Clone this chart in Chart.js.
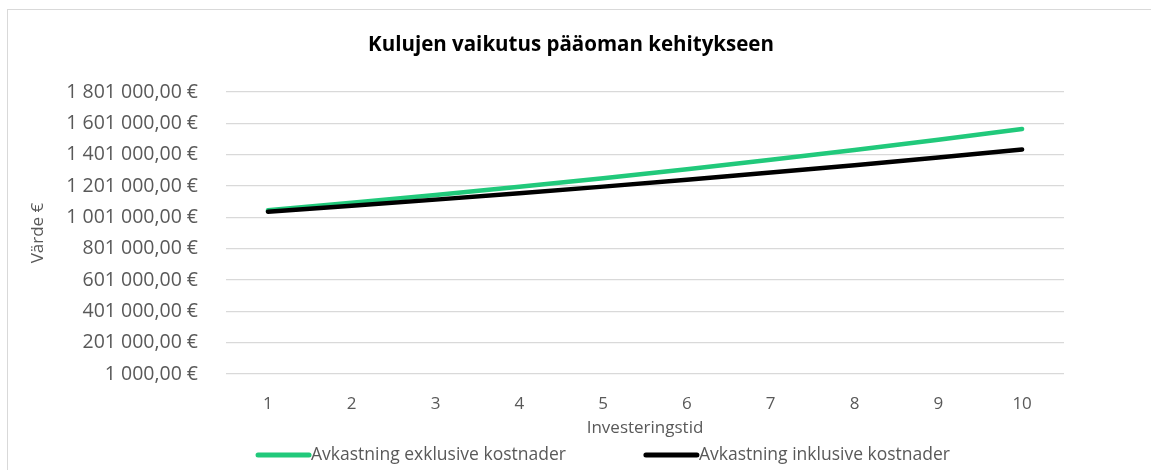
<!DOCTYPE html>
<html>
<head>
<meta charset="utf-8">
<script src="https://cdn.jsdelivr.net/npm/chart.js@4.4.1/dist/chart.umd.min.js"></script>
<style>
  html, body { margin: 0; padding: 0; background: #ffffff; }
  #wrap { position: relative; width: 1151px; height: 470px; overflow: hidden; }
  #frame { position: absolute; left: 7px; top: 9px; width: 1200px; height: 500px; border: 1.5px solid #d9d9d9; box-sizing: border-box; }
  canvas { position: absolute; left: 0; top: 0; }
</style>
</head>
<body>
<div id="wrap">
  <div id="frame"></div>
  <canvas id="c" width="1151" height="470"></canvas>
</div>
<script>
const chartTitle = "Kulujen vaikutus pääoman kehitykseen";
const xTitle = "Investeringstid";
const yTitle = "Värde €";
const categories = ["1", "2", "3", "4", "5", "6", "7", "8", "9", "10"];
const seriesNames = ["Avkastning exklusive kostnader", "Avkastning inklusive kostnader"];
const exclusiveValues = [1046000, 1094000, 1144000, 1196000, 1251000, 1308000, 1368000, 1431000, 1496000, 1565000];
const inclusiveValues = [1037000, 1075000, 1114000, 1155000, 1197000, 1241000, 1287000, 1334000, 1383000, 1434000];
const yTicks = [1000, 201000, 401000, 601000, 801000, 1001000, 1201000, 1401000, 1601000, 1801000];

const FONT = "'Open Sans', 'Noto Sans', sans-serif";
const TEXT = "#595959";
const GREEN = "#21c97b";
const BLACK = "#000000";

function fmtEuro(v) {
  const s = Math.round(v).toString().replace(/\B(?=(\d{3})+(?!\d))/g, " ");
  return s + ",00 €";
}

const titlePlugin = {
  id: 'customTitle',
  afterDraw(chart) {
    const ctx = chart.ctx;
    ctx.save();
    ctx.font = "bold 20.5px " + FONT;
    ctx.fillStyle = "#000000";
    ctx.textAlign = 'center';
    ctx.textBaseline = 'middle';
    ctx.fillText(chartTitle, 571, 45);
    ctx.restore();
  }
};

const legendPlugin = {
  id: 'customLegend',
  afterDraw(chart) {
    const ctx = chart.ctx;
    const ds = chart.data.datasets.slice().sort((a, b) => a.legendIndex - b.legendIndex);
    ctx.save();
    ctx.font = "17.5px " + FONT;
    const sample = 55, gap = 78, y = 455;
    const widths = ds.map(d => sample + ctx.measureText(d.label).width);
    const total = widths.reduce((a, b) => a + b, 0) + gap * (ds.length - 1);
    let x = 603 - total / 2;
    ds.forEach((d, i) => {
      ctx.strokeStyle = d.borderColor;
      ctx.lineWidth = 5;
      ctx.lineCap = 'round';
      ctx.beginPath();
      ctx.moveTo(x + 2, y);
      ctx.lineTo(x + sample - 2, y);
      ctx.stroke();
      ctx.fillStyle = TEXT;
      ctx.textBaseline = 'middle';
      ctx.textAlign = 'left';
      ctx.fillText(d.label, x + sample, y);
      x += widths[i] + gap;
    });
    ctx.restore();
  }
};

new Chart(document.getElementById('c'), {
  type: 'line',
  data: {
    labels: categories,
    datasets: [
      { label: seriesNames[0], legendIndex: 0, data: exclusiveValues, borderColor: GREEN, backgroundColor: GREEN,
        borderWidth: 4.5, pointRadius: 0, borderCapStyle: 'round', borderJoinStyle: 'round', tension: 0, order: 2 },
      { label: seriesNames[1], legendIndex: 1, data: inclusiveValues, borderColor: BLACK, backgroundColor: BLACK,
        borderWidth: 4.5, pointRadius: 0, borderCapStyle: 'round', borderJoinStyle: 'round', tension: 0, order: 1 }
    ]
  },
  options: {
    responsive: false,
    animation: false,
    layout: { padding: { left: 0, right: 87, top: 92, bottom: 26 } },
    plugins: {
      legend: { display: false },
      tooltip: { enabled: false },
      title: { display: false }
    },
    scales: {
      x: {
        type: 'category',
        offset: true,
        grid: { display: false, drawTicks: false },
        border: { display: false },
        ticks: { color: TEXT, font: { family: FONT, size: 17 }, padding: 20, maxRotation: 0 },
        title: { display: true, text: xTitle, color: TEXT, font: { family: FONT, size: 17 }, padding: { top: 0, bottom: 6 } },
        afterFit(s) { s.height = 70; }
      },
      y: {
        min: 1000,
        max: 1801000,
        afterBuildTicks(s) { s.ticks = yTicks.map(v => ({ value: v })); },
        grid: { color: "#d9d9d9", lineWidth: 1.3, drawTicks: false },
        border: { display: false },
        ticks: { color: TEXT, font: { family: FONT, size: 19.5 }, padding: 28, callback: v => fmtEuro(v) },
        title: { display: true, text: yTitle, color: TEXT, font: { family: FONT, size: 17 }, padding: { top: 28, bottom: 0 } },
        afterFit(s) { s.width = 226; }
      }
    }
  },
  plugins: [titlePlugin, legendPlugin]
});
</script>
</body>
</html>
